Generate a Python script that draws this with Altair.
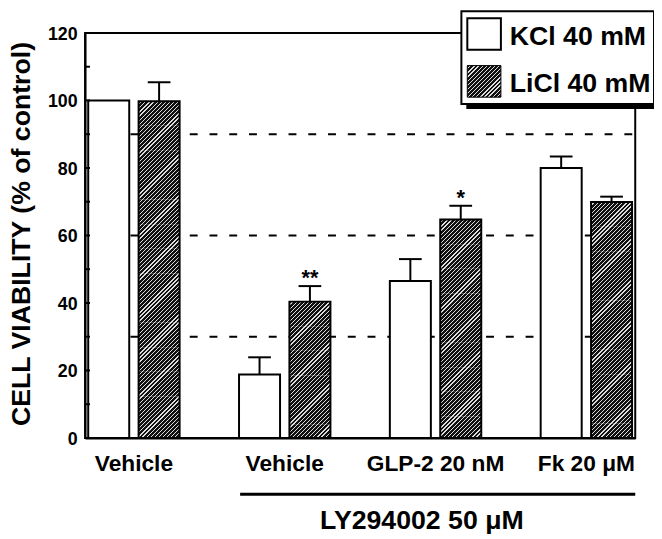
import math
import altair as alt
import pandas as pd

# ---------------- data ----------------
groups = ["g1", "g2", "g3", "g4"]
group_labels = ["Vehicle", "Vehicle", "GLP-2 20 nM", "Fk 20 μM"]
series = ["KCl 40 mM", "LiCl 40 mM"]
kcl_values = [100.0, 18.8, 46.5, 80.0]
kcl_errors = [0.0, 5.1, 6.5, 3.4]
licl_values = [99.8, 40.4, 64.7, 69.9]
licl_errors = [5.6, 4.6, 4.1, 1.6]
licl_marks = ["", "**", "*", ""]
kcl_marks = ["", "", "", ""]
reference_levels = [30, 60, 90]
y_tick_values = [0, 20, 40, 60, 80, 100, 120]
minor_tick_values = [0, 10, 20, 30, 40, 50, 60, 70, 80, 90, 100, 110, 120]
y_title = "CELL VIABILITY (% of control)"
bracket_label = "LY294002 50 μM"

# ---------------- layout ----------------
W, H = 557, 410
YMAX = 120
FONT = "Liberation Sans"
PAD_IN, PAD_OUT, OFF_PAD = 0.394, 0.021, 0.186
_step = W / (len(groups) - PAD_IN + 2 * PAD_OUT)
_band = _step * (1 - PAD_IN)
BAR_W = _band / (2 - OFF_PAD) * (1 - OFF_PAD)   # pixel width of one bar
HP = BAR_W / 10.0                                # hatch period (horizontal px)
SEG_PX = 6 * HP                                  # hatch tile height in px
SEG_DATA = SEG_PX * YMAX / H

rows = []
for i, g in enumerate(groups):
    rows.append(dict(group=g, series=series[0], value=kcl_values[i], err=kcl_errors[i],
                     upper=kcl_values[i] + kcl_errors[i], star=kcl_marks[i]))
    rows.append(dict(group=g, series=series[1], value=licl_values[i], err=licl_errors[i],
                     upper=licl_values[i] + licl_errors[i], star=licl_marks[i]))
df = pd.DataFrame(rows)


def hatch(w, h, period, frac=0.7, dark="#111111", light="#dddddd"):
    L = w + h
    n = int(math.ceil(L / period))
    stops = []
    for i in range(n):
        a = min(i * period / L, 1.0)
        b = min((i + frac) * period / L, 1.0)
        c = min((i + 1) * period / L, 1.0)
        stops += [{"offset": a, "color": dark}, {"offset": b, "color": dark},
                  {"offset": b, "color": light}, {"offset": c, "color": light}]
    s = w * w + h * h
    return {"gradient": "linear", "x1": 0, "y1": 0,
            "x2": w * L / s, "y2": h * L / s, "stops": stops}


# hatch tiles for the LiCl bars (full tiles from the top, remainder at the bottom)
full_tiles, rem_tiles = [], []
for i, g in enumerate(groups):
    top = licl_values[i]
    m = int(top // SEG_DATA)
    for k in range(m):
        full_tiles.append(dict(group=g, series=series[1], lo=top - (k + 1) * SEG_DATA,
                               hi=top - k * SEG_DATA))
    rem_tiles.append(dict(group=g, series=series[1], lo=0.0, hi=top - m * SEG_DATA))

label_expr = "{}[indexof({}, datum.value)]".format(
    "[" + ",".join("'" + l + "'" for l in group_labels) + "]",
    "[" + ",".join("'" + g + "'" for g in groups) + "]",
)

x_axis = alt.Axis(labelExpr=label_expr, labelAngle=0, labelFontSize=23, labelFontWeight="bold",
                  labelFont=FONT, labelColor="black", labelPadding=15, ticks=False, tickSize=0,
                  domainColor="black", domainWidth=2, title=None)
y_axis = alt.Axis(values=y_tick_values, labelFontSize=18, labelFontWeight="bold", labelFont=FONT,
                  labelColor="black", labelPadding=8, labelOffset=1.5, ticks=False, tickSize=0,
                  grid=False, domainColor="black", domainWidth=2, title=y_title, titleFont=FONT,
                  titleFontSize=27, titleFontWeight="bold", titleColor="black",
                  titleX=-64, titleY=H / 2 - 2, titleAngle=270, titleAlign="center",
                  titleBaseline="middle")

x_scale = alt.Scale(domain=groups, paddingInner=PAD_IN, paddingOuter=PAD_OUT)
y_scale = alt.Scale(domain=[0, YMAX], nice=False, zero=True)
x_enc = alt.X("group:N", scale=x_scale, axis=x_axis)
xo_enc = alt.XOffset("series:N", scale=alt.Scale(domain=series, paddingInner=OFF_PAD, paddingOuter=0))


def yq(field):
    return alt.Y(field, scale=y_scale, axis=y_axis)


base = alt.Chart(df)

# dashed reference lines (behind bars)
ref = alt.Chart(pd.DataFrame({"level": reference_levels})).mark_rule(
    color="black", strokeWidth=2, strokeDash=[8, 12]
).encode(y=yq("level:Q"), x=alt.value(46), x2=alt.value(W))

# inward minor ticks on y axis
yticks = alt.Chart(pd.DataFrame({"t": minor_tick_values})).mark_rule(
    color="black", strokeWidth=2
).encode(y=yq("t:Q"), x=alt.value(0), x2=alt.value(5))

kcl_bars = base.transform_filter(alt.datum.series == series[0]).mark_bar(
    fill="white", stroke="black", strokeWidth=2
).encode(x=x_enc, xOffset=xo_enc, y=yq("value:Q"))

layers = [ref, kcl_bars]

# hatched fill of LiCl bars
layers.append(
    alt.Chart(pd.DataFrame(full_tiles)).mark_bar(
        fill=hatch(BAR_W, SEG_PX, HP), strokeWidth=0
    ).encode(x=x_enc, xOffset=xo_enc, y=yq("lo:Q"), y2="hi:Q")
)
for t in rem_tiles:
    rpx = (t["hi"] - t["lo"]) * H / YMAX
    if rpx <= 0.01:
        continue
    layers.append(
        alt.Chart(pd.DataFrame([t])).mark_bar(
            fill=hatch(BAR_W, rpx, HP), strokeWidth=0
        ).encode(x=x_enc, xOffset=xo_enc, y=yq("lo:Q"), y2="hi:Q")
    )
# outline of LiCl bars
layers.append(
    base.transform_filter(alt.datum.series == series[1]).mark_bar(
        fillOpacity=0, stroke="black", strokeWidth=2
    ).encode(x=x_enc, xOffset=xo_enc, y=yq("value:Q"))
)

err_base = base.transform_filter(alt.datum.err > 0)
err_rule = err_base.mark_rule(color="black", strokeWidth=2).encode(
    x=x_enc, xOffset=xo_enc, y=yq("value:Q"), y2="upper:Q",
)
err_cap = err_base.mark_tick(color="black", size=23, thickness=2, opacity=1).encode(
    x=x_enc, xOffset=xo_enc, y=yq("upper:Q"),
)
stars = base.transform_filter(alt.datum.star != "").mark_text(
    fontSize=22, fontWeight="bold", font=FONT, color="black", baseline="alphabetic", dy=-1
).encode(x=x_enc, xOffset=xo_enc, y=yq("upper:Q"), text="star:N")
layers += [err_rule, err_cap, stars, yticks]

# bracket under LY294002 groups
brk_df = pd.DataFrame({"label": [bracket_label]})
bracket = alt.Chart(brk_df).mark_rule(color="black", strokeWidth=3).encode(
    x=alt.value(157), x2=alt.value(W), y=alt.value(467),
)
bracket_text = alt.Chart(brk_df).mark_text(
    fontSize=27, fontWeight="bold", font=FONT, color="black", align="center", baseline="alphabetic"
).encode(x=alt.value(341), y=alt.value(502), text="label:N")
layers += [bracket, bracket_text]

# legend (manual, with drop shadow)
leg_df = pd.DataFrame({"name": series})
shadow = alt.Chart(leg_df.head(1)).mark_rect(fill="black").encode(
    x=alt.value(386), x2=alt.value(581), y=alt.value(-17), y2=alt.value(77))
box = alt.Chart(leg_df.head(1)).mark_rect(fill="white", stroke="black", strokeWidth=2).encode(
    x=alt.value(381), x2=alt.value(576), y=alt.value(-22), y2=alt.value(72))
sym1 = alt.Chart(leg_df.head(1)).mark_rect(fill="white", stroke="black", strokeWidth=2).encode(
    x=alt.value(387), x2=alt.value(421), y=alt.value(-15), y2=alt.value(17))
sym2 = alt.Chart(leg_df.head(1)).mark_rect(fill=hatch(34, 32, HP), stroke="black", strokeWidth=1).encode(
    x=alt.value(387), x2=alt.value(421), y=alt.value(33), y2=alt.value(65))
txt1 = alt.Chart(leg_df.iloc[[0]]).mark_text(
    fontSize=27, fontWeight="bold", font=FONT, color="black", align="left", baseline="alphabetic"
).encode(x=alt.value(430), y=alt.value(12), text="name:N")
txt2 = alt.Chart(leg_df.iloc[[1]]).mark_text(
    fontSize=27, fontWeight="bold", font=FONT, color="black", align="left", baseline="alphabetic"
).encode(x=alt.value(430), y=alt.value(60), text="name:N")
layers += [shadow, box, sym1, sym2, txt1, txt2]

chart = alt.layer(*layers).properties(
    width=W, height=H,
    autosize=alt.AutoSizeParams(type="none"),
    padding={"left": 78, "top": 22, "right": 19, "bottom": 99},
    background="white",
).configure(font=FONT).configure_view(stroke="black", strokeWidth=2)

chart.save("out.html", embed_options={"renderer": "svg", "actions": False})
